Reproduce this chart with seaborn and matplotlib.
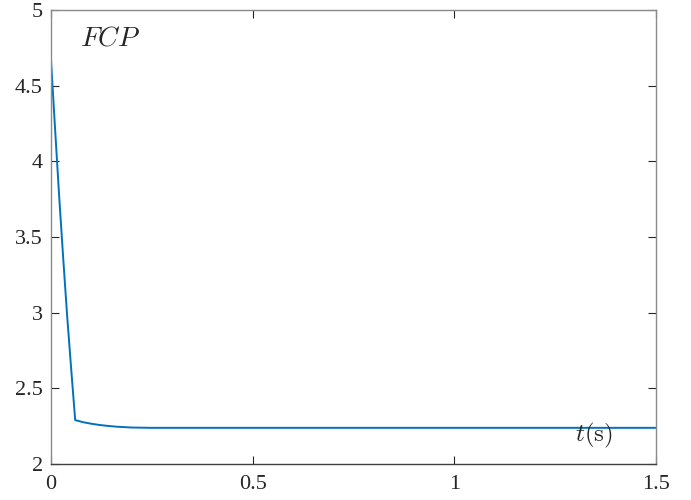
import matplotlib
matplotlib.use("Agg")
import matplotlib.pyplot as plt
import seaborn as sns
import pandas as pd

# ---- data ----
t_vals = [0.0, 0.01, 0.02, 0.03, 0.04, 0.05, 0.06, 0.08, 0.10, 0.12,
          0.14, 0.16, 0.18, 0.20, 0.25, 0.5, 1.0, 1.5]
fcp_vals = [4.67, 4.22, 3.78, 3.37, 2.98, 2.63, 2.29, 2.276, 2.266, 2.258,
            2.252, 2.247, 2.244, 2.241, 2.239, 2.239, 2.239, 2.239]
x_ticks = [0, 0.5, 1, 1.5]
x_tick_labels = ["0", "0.5", "1", "1.5"]
y_ticks = [2, 2.5, 3, 3.5, 4, 4.5, 5]
y_tick_labels = ["2", "2.5", "3", "3.5", "4", "4.5", "5"]

df = pd.DataFrame({"t": t_vals, "FCP": fcp_vals})

sns.set_style("ticks")
plt.rcParams["font.family"] = ["Liberation Serif", "DejaVu Serif"]
plt.rcParams["mathtext.fontset"] = "cm"

fig = plt.figure(figsize=(6.91, 5.0), dpi=100)
ax = fig.add_axes([0.0738, 0.072, 0.8755, 0.908])

sns.lineplot(data=df, x="t", y="FCP", ax=ax, color="#0072BD", linewidth=1.4)

ax.set_xlim(0, 1.5)
ax.set_ylim(2, 5)
ax.set_xticks(x_ticks)
ax.set_xticklabels(x_tick_labels)
ax.set_yticks(y_ticks)
ax.set_yticklabels(y_tick_labels)
ax.set_xlabel("")
ax.set_ylabel("")

# MATLAB-like box: dark bottom axis, lighter grey for the rest
for name, s in ax.spines.items():
    s.set_visible(True)
    s.set_linewidth(1.0)
    s.set_color("#404040" if name == "bottom" else "#8a8a8a")

ax.tick_params(direction="in", top=True, right=True, length=6, width=0.8,
               color="#262626", labelsize=16, labelcolor="#262626")
ax.tick_params(axis="x", pad=8)
ax.tick_params(axis="y", pad=6)

ax.text(0.072, 4.81, r"$FCP$", fontsize=20, va="center", ha="left", color="#262626")
ax.text(1.30, 2.19, r"$t(\mathrm{s})$", fontsize=18, va="center", ha="left", color="#262626")

fig.savefig("out.png", dpi=100)
